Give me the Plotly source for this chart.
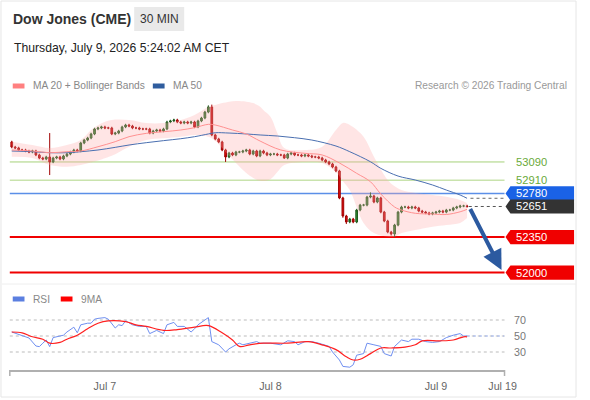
import plotly.graph_objects as go
from datetime import datetime, timedelta

W, H = 590, 400
T0 = datetime(2026, 7, 6, 10, 30)
STEP = timedelta(minutes=30)
FONT = "Liberation Sans, Arial, sans-serif"

# ---------------- data ----------------
first_open = 53287
closes = [53237, 53228, 53208, 53208, 53198, 53188, 53198, 53159, 53129, 53119,
          53139, 53090, 53129, 53139, 53119, 53149, 53168, 53188, 53208, 53198,
          53277, 53306, 53326, 53366, 53415, 53425, 53435, 53425, 53425, 53366,
          53375, 53395, 53435, 53454, 53444, 53425, 53425, 53415, 53415, 53415,
          53375, 53395, 53405, 53395, 53415, 53484, 53494, 53504, 53484, 53474,
          53484, 53474, 53484, 53435, 53494, 53523, 53582, 53632, 53356, 53316,
          53287, 53208, 53139, 53178, 53159, 53188, 53188, 53198, 53208, 53168,
          53198, 53149, 53198, 53178, 53159, 53168, 53168, 53159, 53159, 53129,
          53168, 53178, 53159, 53159, 53149, 53159, 53149, 53139, 53139, 53129,
          53109, 53090, 53070, 53040, 53001, 52735, 52557, 52498, 52527, 52498,
          52616, 52665, 52665, 52744, 52754, 52695, 52735, 52596, 52508, 52399,
          52380, 52468, 52596, 52646, 52646, 52636, 52646, 52636, 52606, 52596,
          52587, 52577, 52587, 52596, 52606, 52596, 52616, 52616, 52636, 52646,
          52656, 52656, 52651]
special_high = {11: 53375, 57: 53648, 58: 53655, 104: 52790}
special_low = {11: 52961, 62: 53090, 79: 53120, 96: 52540, 97: 52478, 110: 52365, 111: 52350}
WICK = 12

band_idx = [0, 6, 11, 16, 20, 23, 26, 29, 34, 39, 44, 49, 53, 57, 59, 61, 63, 65, 68, 70,
            72, 73, 75, 77, 79, 85, 90, 94, 96, 98, 102, 105, 109, 111, 113, 117, 122, 126, 130, 132]
band_upper = [53290, 53257, 53228, 53257, 53306, 53405, 53471, 53504, 53504, 53474,
              53474, 53504, 53553, 53635, 53652, 53670, 53684, 53690, 53684, 53670,
              53635, 53600, 53536, 53375, 53228, 53208, 53240, 53405, 53474, 53454,
              53339, 53142, 52912, 52850, 52813, 52784, 52764, 52747, 52715, 52685]
band_lower = [53142, 53129, 53060, 53043, 53060, 53085, 53115, 53150, 53240, 53306,
              53323, 53339, 53356, 53339, 53300, 53228, 53150, 53080, 52980, 52932,
              52905, 52902, 52920, 52991, 53060, 53090, 53080, 52991, 52900, 52813,
              52488, 52389, 52353, 52353, 52389, 52419, 52452, 52468, 52488, 52537]

ma20_idx = [0, 6, 11, 16, 20, 25, 30, 34, 39, 44, 49, 53, 57, 59, 64, 68, 72, 78, 85, 90,
            95, 100, 104, 107, 111, 113, 117, 122, 126, 130, 132]
ma20_val = [53208, 53198, 53181, 53191, 53198, 53240, 53290, 53339, 53372, 53388,
            53405, 53428, 53461, 53454, 53405, 53366, 53296, 53208, 53175, 53159,
            53080, 52978, 52895, 52774, 52646, 52616, 52584, 52577, 52572, 52599, 52623]

ma50_idx = [0, 6, 11, 16, 20, 25, 30, 34, 39, 44, 49, 53, 57, 59, 63, 68, 72, 77, 82, 87,
            94, 98, 104, 107, 112, 117, 122, 126, 130, 132]
ma50_val = [53198, 53191, 53181, 53181, 53191, 53208, 53234, 53257, 53280, 53300,
            53319, 53339, 53366, 53378, 53375, 53366, 53356, 53346, 53329, 53306,
            53247, 53191, 53092, 53027, 52951, 52912, 52863, 52813, 52764, 52732]

rsi_idx = [0, 3, 5, 7, 8, 9, 10, 11, 12, 15, 16, 18, 19, 20, 22, 23, 24, 25, 27, 28,
           30, 31, 32, 33, 35, 37, 39, 40, 42, 44, 45, 47, 48, 50, 52, 53, 54, 56, 57, 58,
           60, 62, 63, 65, 66, 67, 69, 71, 72, 75, 78, 80, 82, 83, 85, 87, 89, 92, 93, 95,
           96, 98, 99, 100, 102, 103, 105, 107, 108, 110, 111, 113, 115, 116, 118, 120, 122,
           124, 126, 128, 130, 131, 132]
rsi_val = [55, 51, 47.5, 37.5, 36.7, 41, 45, 36.7, 48, 51, 55, 61, 54, 64, 66, 66, 71, 72, 73, 71,
           60, 64, 63, 69, 64, 62, 62, 53, 57, 53, 64, 67, 62, 62, 55, 59, 64, 70, 73, 43,
           39, 30, 34, 39, 41, 39, 41, 43, 41, 41, 39, 44, 43, 39, 43, 43, 41, 37, 30, 20,
           12, 11, 14, 26, 28, 41, 39, 37, 28, 25, 37, 45, 43, 46, 46, 43, 42,
           43, 48, 51, 53, 50, 50]

rma_idx = [0, 3, 6, 9, 11, 14, 16, 19, 22, 25, 28, 33, 36, 39, 44, 48, 53, 57, 61, 64,
           66, 69, 73, 80, 86, 90, 94, 97, 99, 101, 104, 107, 110, 114, 117, 119, 124, 128, 131, 132]
rma_val = [55, 54, 49, 46, 41, 42, 46, 51, 59, 66, 69, 68, 64, 62, 57, 58, 61, 63, 54, 45,
           37, 39, 41, 41, 43, 39, 33, 24, 20, 21, 28, 35, 35, 36, 39, 44, 44, 45, 49, 49]

levels = [53090, 52910, 52780, 52350, 52000]
last_price = 52651
target = 52000
rsi_levels = [70, 50, 30]

tick_vals = [datetime(2026, 7, 7), datetime(2026, 7, 8), datetime(2026, 7, 9),
             datetime(2026, 7, 9, 9, 39)]
tick_text = ["Jul 7", "Jul 8", "Jul 9", "Jul 19"]

x_range = [datetime(2026, 7, 6, 10, 13), datetime(2026, 7, 9, 9, 56)]

# ---------------- derived ----------------
def t(i):
    return T0 + i * STEP

times = [t(i) for i in range(len(closes))]
opens = [first_open] + closes[:-1]
highs = [special_high.get(i, max(o, c) + WICK) for i, (o, c) in enumerate(zip(opens, closes))]
lows = [special_low.get(i, min(o, c) - WICK) for i, (o, c) in enumerate(zip(opens, closes))]


def px(x):
    return x / W


def py(y):
    return 1 - y / H


fig = go.Figure()

# Bollinger band fill
fig.add_trace(go.Scatter(x=[t(i) for i in band_idx], y=band_upper, mode="lines",
                         line=dict(width=0, shape="spline", color="rgba(0,0,0,0)"),
                         hoverinfo="skip", xaxis="x", yaxis="y"))
fig.add_trace(go.Scatter(x=[t(i) for i in band_idx], y=band_lower, mode="lines",
                         line=dict(width=0, shape="spline", color="rgba(0,0,0,0)"),
                         fill="tonexty", fillcolor="rgba(255,170,170,0.3)",
                         hoverinfo="skip", xaxis="x", yaxis="y"))
# MA lines
fig.add_trace(go.Scatter(x=[t(i) for i in ma50_idx], y=ma50_val, mode="lines",
                         line=dict(width=1, color="#4a6fb0", shape="spline"),
                         xaxis="x", yaxis="y"))
fig.add_trace(go.Scatter(x=[t(i) for i in ma20_idx], y=ma20_val, mode="lines",
                         line=dict(width=1, color="#ff9090", shape="spline"),
                         xaxis="x", yaxis="y"))
# candles
fig.add_trace(go.Candlestick(x=times, open=opens, high=highs, low=lows, close=closes,
                             increasing=dict(line=dict(color="#1e5a1e", width=1), fillcolor="#2e8b2e"),
                             decreasing=dict(line=dict(color="#a00000", width=1), fillcolor="#e01010"),
                             whiskerwidth=0, xaxis="x", yaxis="y"))

# RSI
fig.add_trace(go.Scatter(x=[t(i) for i in rsi_idx], y=rsi_val, mode="lines",
                         line=dict(width=1, color="#6f8ff0"), xaxis="x2", yaxis="y2"))
fig.add_trace(go.Scatter(x=[t(i) for i in rma_idx], y=rma_val, mode="lines",
                         line=dict(width=1.2, color="#ff2020", shape="spline"), xaxis="x2", yaxis="y2"))

shapes = []
annotations = []

# outer border and separator
shapes.append(dict(type="rect", xref="paper", yref="paper", x0=px(1), x1=px(588), y0=py(397), y1=py(1),
                   line=dict(color="#e6e6e6", width=1), layer="below"))
shapes.append(dict(type="line", xref="paper", yref="paper", x0=px(2), x1=px(588), y0=py(284), y1=py(284),
                   line=dict(color="#eeeeee", width=1), layer="below"))

# header
shapes.append(dict(type="rect", xref="paper", yref="paper", x0=px(137), x1=px(188), y0=py(31), y1=py(7),
                   fillcolor="#e9e9e9", line=dict(width=0), layer="below"))
annotations.append(dict(xref="paper", yref="paper", x=px(11), y=py(19), xanchor="left", yanchor="middle",
                        text="<b>Dow Jones (CME)</b>", showarrow=False,
                        font=dict(family=FONT, size=14, color="#333333")))
annotations.append(dict(xref="paper", yref="paper", x=px(162.5), y=py(19), xanchor="center", yanchor="middle",
                        text="30 MIN", showarrow=False, font=dict(family=FONT, size=12, color="#333333")))
annotations.append(dict(xref="paper", yref="paper", x=px(12), y=py(48), xanchor="left", yanchor="middle",
                        text="Thursday, July 9, 2026 5:24:02 AM CET", showarrow=False,
                        font=dict(family=FONT, size=12.2, color="#222222")))

# legends
def legend_item(x0, y, color, label):
    shapes.append(dict(type="rect", xref="paper", yref="paper", x0=px(x0), x1=px(x0 + 12),
                       y0=py(y + 2.5), y1=py(y - 2.5), fillcolor=color, line=dict(width=0)))
    annotations.append(dict(xref="paper", yref="paper", x=px(x0 + 19), y=py(y), xanchor="left",
                            yanchor="middle", text=label, showarrow=False,
                            font=dict(family=FONT, size=10.2, color="#888888")))

legend_item(13, 86, "#ff8080", "MA 20 + Bollinger Bands")
legend_item(156, 86, "#2f5d9e", "MA 50")
legend_item(13, 299, "#5b7fe0", "RSI")
legend_item(62, 299, "#ff0000", "9MA")
annotations.append(dict(xref="paper", yref="paper", x=px(581), y=py(86), xanchor="right", yanchor="middle",
                        text="Research © 2026 Trading Central", showarrow=False,
                        font=dict(family=FONT, size=10.2, color="#999999")))

# level lines and tags
level_style = {
    53090: dict(color="#a5d27a", width=1),
    52910: dict(color="#c9e3ad", width=1.5),
    52780: dict(color="#5b8fe8", width=1.5),
    52350: dict(color="#f00000", width=2),
    52000: dict(color="#f00000", width=2),
}
for v in levels:
    shapes.append(dict(type="line", xref="x domain", yref="y", x0=0, x1=1, y0=v, y1=v,
                       line=level_style[v], layer="below"))

TAG_H = 70
def tag(v, fill):
    path = (f"M 1.002,{v} L 1.012,{v + TAG_H} L 1.1406,{v + TAG_H} "
            f"L 1.1406,{v - TAG_H} L 1.012,{v - TAG_H} Z")
    shapes.append(dict(type="path", xref="x domain", yref="y", path=path,
                       fillcolor=fill, line=dict(width=0)))

def tag_text(v, color):
    annotations.append(dict(xref="x domain", yref="y", x=1.02, y=v, xanchor="left", yanchor="middle",
                            text=f"{v}", showarrow=False, font=dict(family=FONT, size=11.2, color=color)))

tag_text(53090, "#6aaa3a")
tag_text(52910, "#6aaa3a")
tag(52780, "#1a62e6")
tag_text(52780, "white")
tag(last_price, "#333333")
tag_text(last_price, "white")
tag(52350, "#f00000")
tag_text(52350, "white")
tag(52000, "#f00000")
tag_text(52000, "white")

# dotted continuation lines
shapes.append(dict(type="line", xref="x", yref="y", x0=t(len(closes)), x1=x_range[1],
                   y0=ma50_val[-1], y1=ma50_val[-1], line=dict(color="#666666", width=1, dash="dot")))
shapes.append(dict(type="line", xref="x", yref="y", x0=t(len(closes) - 0.5), x1=x_range[1],
                   y0=last_price, y1=last_price, line=dict(color="#555555", width=1, dash="dot")))

# forecast arrow
annotations.append(dict(xref="x", yref="y", x=datetime(2026, 7, 9, 9, 30), y=target + 25,
                        axref="x", ayref="y", ax=t(len(closes) - 0.3), ay=last_price - 10,
                        text="", showarrow=True, arrowhead=2, arrowsize=1, arrowwidth=4,
                        arrowcolor="#2c5aa0", standoff=0, startstandoff=0))

# RSI grid and labels
for v in rsi_levels:
    shapes.append(dict(type="line", xref="x2 domain", yref="y2", x0=0, x1=1, y0=v, y1=v,
                       line=dict(color="#bbbbbb", width=1, dash="dot"), layer="below"))
    annotations.append(dict(xref="x2 domain", yref="y2", x=1.016, y=v, xanchor="left", yanchor="middle",
                            text=str(v), showarrow=False, font=dict(family=FONT, size=10.7, color="#777777")))
shapes.append(dict(type="line", xref="x2", yref="y2", x0=t(rsi_idx[-1]), x1=x_range[1],
                   y0=rsi_val[-1], y1=rsi_val[-1], line=dict(color="#9fb4f0", width=1, dash="dot")))

# axis end ticks
for xd in (0, 1):
    shapes.append(dict(type="line", xref="x2 domain", yref="paper", x0=xd, x1=xd, y0=py(370), y1=py(376),
                       line=dict(color="#b0b0b0", width=1.5)))

dom_x = [px(10), px(515)]
fig.update_layout(
    autosize=True, height=H, margin=dict(l=0, r=0, t=0, b=0),
    paper_bgcolor="white", plot_bgcolor="rgba(0,0,0,0)", showlegend=False,
    font=dict(family=FONT),
    xaxis=dict(domain=dom_x, range=x_range, type="date", visible=False, anchor="y",
               rangeslider=dict(visible=False), fixedrange=True),
    yaxis=dict(domain=[py(284), py(95)], range=[51887, 53750], visible=False, anchor="x"),
    xaxis2=dict(domain=dom_x, range=x_range, type="date", anchor="y2", matches="x",
                showline=True, linecolor="#b0b0b0", linewidth=2, showgrid=False, zeroline=False,
                tickmode="array", tickvals=tick_vals, ticktext=tick_text,
                ticks="outside", ticklen=5, tickcolor="rgba(0,0,0,0)",
                tickfont=dict(family=FONT, size=10.7, color="#666666")),
    yaxis2=dict(domain=[py(370), py(305)], range=[7.5, 88.75], visible=False, anchor="x2"),
    shapes=shapes, annotations=annotations,
)

fig.write_html("out.html", config={"displayModeBar": False, "responsive": True},
               default_width="100%", default_height=f"{H}px",
               post_script=("document.body.style.margin='0px';"
                            "document.body.style.overflow='hidden';"
                            "Plotly.Plots.resize(document.getElementById('{plot_id}'));"))
